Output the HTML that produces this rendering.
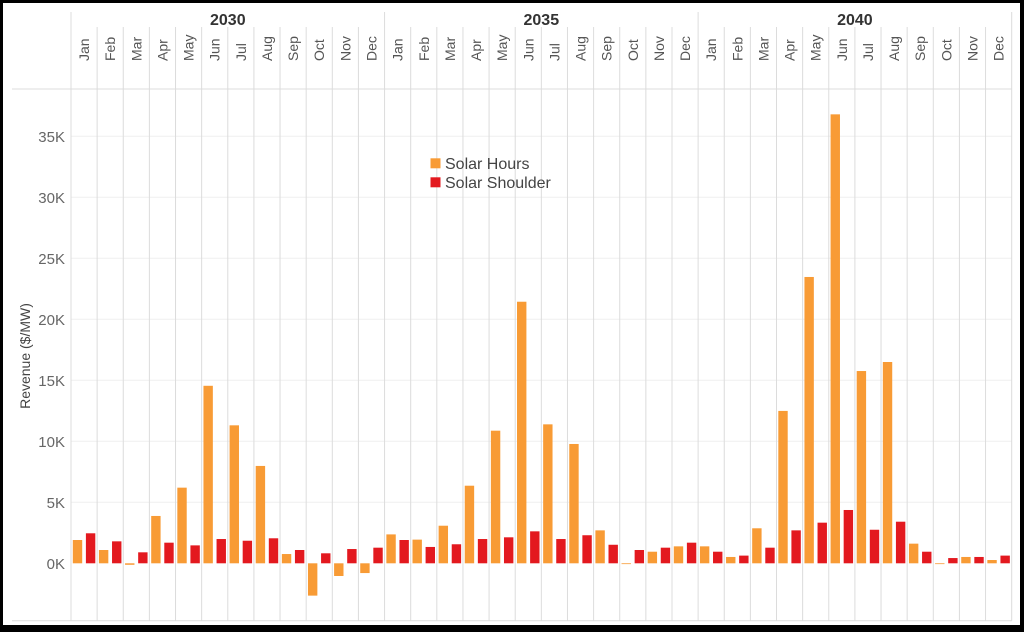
<!DOCTYPE html>
<html>
<head>
<meta charset="utf-8">
<style>
html,body{margin:0;padding:0;background:#000;}
svg{display:block;}
text{font-family:"Liberation Sans",Arial,sans-serif;}
</style>
</head>
<body>
<svg width="1024" height="632" viewBox="0 0 1024 632" xmlns="http://www.w3.org/2000/svg">
<rect x="0" y="0" width="1024" height="632" fill="#000"/>
<rect x="3" y="3" width="1017" height="622" fill="#fff"/>

<!-- horizontal gridlines -->
<g stroke="#efefef" stroke-width="1">
<line x1="71" y1="502.3" x2="1011.7" y2="502.3"/>
<line x1="71" y1="441.3" x2="1011.7" y2="441.3"/>
<line x1="71" y1="380.3" x2="1011.7" y2="380.3"/>
<line x1="71" y1="319.3" x2="1011.7" y2="319.3"/>
<line x1="71" y1="258.3" x2="1011.7" y2="258.3"/>
<line x1="71" y1="197.3" x2="1011.7" y2="197.3"/>
<line x1="71" y1="136.3" x2="1011.7" y2="136.3"/>
</g>

<!-- vertical month separators -->
<g stroke="#dcdcdc" stroke-width="1">
<line x1="97.13" y1="27" x2="97.13" y2="620.7"/>
<line x1="123.26" y1="27" x2="123.26" y2="620.7"/>
<line x1="149.39" y1="27" x2="149.39" y2="620.7"/>
<line x1="175.52" y1="27" x2="175.52" y2="620.7"/>
<line x1="201.65" y1="27" x2="201.65" y2="620.7"/>
<line x1="227.78" y1="27" x2="227.78" y2="620.7"/>
<line x1="253.91" y1="27" x2="253.91" y2="620.7"/>
<line x1="280.04" y1="27" x2="280.04" y2="620.7"/>
<line x1="306.17" y1="27" x2="306.17" y2="620.7"/>
<line x1="332.3" y1="27" x2="332.3" y2="620.7"/>
<line x1="358.43" y1="27" x2="358.43" y2="620.7"/>
<line x1="410.69" y1="27" x2="410.69" y2="620.7"/>
<line x1="436.82" y1="27" x2="436.82" y2="620.7"/>
<line x1="462.95" y1="27" x2="462.95" y2="620.7"/>
<line x1="489.08" y1="27" x2="489.08" y2="620.7"/>
<line x1="515.21" y1="27" x2="515.21" y2="620.7"/>
<line x1="541.34" y1="27" x2="541.34" y2="620.7"/>
<line x1="567.47" y1="27" x2="567.47" y2="620.7"/>
<line x1="593.6" y1="27" x2="593.6" y2="620.7"/>
<line x1="619.73" y1="27" x2="619.73" y2="620.7"/>
<line x1="645.86" y1="27" x2="645.86" y2="620.7"/>
<line x1="671.99" y1="27" x2="671.99" y2="620.7"/>
<line x1="724.25" y1="27" x2="724.25" y2="620.7"/>
<line x1="750.38" y1="27" x2="750.38" y2="620.7"/>
<line x1="776.51" y1="27" x2="776.51" y2="620.7"/>
<line x1="802.64" y1="27" x2="802.64" y2="620.7"/>
<line x1="828.77" y1="27" x2="828.77" y2="620.7"/>
<line x1="854.9" y1="27" x2="854.9" y2="620.7"/>
<line x1="881.03" y1="27" x2="881.03" y2="620.7"/>
<line x1="907.16" y1="27" x2="907.16" y2="620.7"/>
<line x1="933.29" y1="27" x2="933.29" y2="620.7"/>
<line x1="959.42" y1="27" x2="959.42" y2="620.7"/>
<line x1="985.55" y1="27" x2="985.55" y2="620.7"/>
<!-- year separators -->
<line x1="71" y1="12" x2="71" y2="620.7"/>
<line x1="384.56" y1="12" x2="384.56" y2="620.7"/>
<line x1="698.12" y1="12" x2="698.12" y2="620.7"/>
<line x1="1011.68" y1="12" x2="1011.68" y2="620.7"/>
<!-- header and bottom lines -->
<line x1="12" y1="89" x2="1011.7" y2="89"/>
<line x1="12" y1="620.7" x2="1011.7" y2="620.7"/>
</g>

<!-- year labels -->
<g font-size="16" font-weight="bold" fill="#333" text-anchor="middle">
<text x="227.8" y="25">2030</text>
<text x="541.3" y="25">2035</text>
<text x="854.9" y="25">2040</text>
</g>

<!-- month labels -->
<g font-size="14" fill="#555">
<text transform="translate(89.1,61) rotate(-90)">Jan</text>
<text transform="translate(115.2,61) rotate(-90)">Feb</text>
<text transform="translate(141.3,61) rotate(-90)">Mar</text>
<text transform="translate(167.5,61) rotate(-90)">Apr</text>
<text transform="translate(193.6,61) rotate(-90)">May</text>
<text transform="translate(219.7,61) rotate(-90)">Jun</text>
<text transform="translate(245.9,61) rotate(-90)">Jul</text>
<text transform="translate(272.0,61) rotate(-90)">Aug</text>
<text transform="translate(298.1,61) rotate(-90)">Sep</text>
<text transform="translate(324.2,61) rotate(-90)">Oct</text>
<text transform="translate(350.4,61) rotate(-90)">Nov</text>
<text transform="translate(376.5,61) rotate(-90)">Dec</text>
<text transform="translate(402.6,61) rotate(-90)">Jan</text>
<text transform="translate(428.8,61) rotate(-90)">Feb</text>
<text transform="translate(454.9,61) rotate(-90)">Mar</text>
<text transform="translate(481.0,61) rotate(-90)">Apr</text>
<text transform="translate(507.2,61) rotate(-90)">May</text>
<text transform="translate(533.3,61) rotate(-90)">Jun</text>
<text transform="translate(559.4,61) rotate(-90)">Jul</text>
<text transform="translate(585.5,61) rotate(-90)">Aug</text>
<text transform="translate(611.7,61) rotate(-90)">Sep</text>
<text transform="translate(637.8,61) rotate(-90)">Oct</text>
<text transform="translate(663.9,61) rotate(-90)">Nov</text>
<text transform="translate(690.1,61) rotate(-90)">Dec</text>
<text transform="translate(716.2,61) rotate(-90)">Jan</text>
<text transform="translate(742.3,61) rotate(-90)">Feb</text>
<text transform="translate(768.5,61) rotate(-90)">Mar</text>
<text transform="translate(794.6,61) rotate(-90)">Apr</text>
<text transform="translate(820.7,61) rotate(-90)">May</text>
<text transform="translate(846.8,61) rotate(-90)">Jun</text>
<text transform="translate(873.0,61) rotate(-90)">Jul</text>
<text transform="translate(899.1,61) rotate(-90)">Aug</text>
<text transform="translate(925.2,61) rotate(-90)">Sep</text>
<text transform="translate(951.4,61) rotate(-90)">Oct</text>
<text transform="translate(977.5,61) rotate(-90)">Nov</text>
<text transform="translate(1003.6,61) rotate(-90)">Dec</text>
</g>

<!-- y tick labels -->
<g font-size="15" fill="#666" text-anchor="end">
<text x="65" y="568.8">0K</text>
<text x="65" y="507.8">5K</text>
<text x="65" y="446.8">10K</text>
<text x="65" y="385.8">15K</text>
<text x="65" y="324.8">20K</text>
<text x="65" y="263.8">25K</text>
<text x="65" y="202.8">30K</text>
<text x="65" y="141.8">35K</text>
</g>

<!-- y axis title -->
<text transform="translate(30,356) rotate(-90)" font-size="14" fill="#444" text-anchor="middle">Revenue ($/MW)</text>

<!-- Solar Hours (orange) -->
<g fill="#F89B35">
<rect x="72.8" y="540.0" width="9.4" height="23.3"/>
<rect x="98.93" y="550.0" width="9.4" height="13.3"/>
<rect x="125.06" y="563.3" width="9.4" height="1.5"/>
<rect x="151.19" y="515.96" width="9.4" height="47.34"/>
<rect x="177.32" y="487.66" width="9.4" height="75.64"/>
<rect x="203.45" y="385.79" width="9.4" height="177.51"/>
<rect x="229.58" y="425.32" width="9.4" height="137.98"/>
<rect x="255.71" y="465.94" width="9.4" height="97.36"/>
<rect x="281.84" y="554.03" width="9.4" height="9.27"/>
<rect x="307.97" y="563.3" width="9.4" height="32.33"/>
<rect x="334.1" y="563.3" width="9.4" height="12.69"/>
<rect x="360.23" y="563.3" width="9.4" height="9.76"/>
<rect x="386.36" y="534.39" width="9.4" height="28.91"/>
<rect x="412.49" y="539.63" width="9.4" height="23.67"/>
<rect x="438.62" y="525.72" width="9.4" height="37.58"/>
<rect x="464.75" y="485.71" width="9.4" height="77.59"/>
<rect x="490.88" y="430.69" width="9.4" height="132.61"/>
<rect x="517.01" y="301.73" width="9.4" height="261.57"/>
<rect x="543.14" y="424.34" width="9.4" height="138.96"/>
<rect x="569.27" y="443.98" width="9.4" height="119.32"/>
<rect x="595.4" y="530.36" width="9.4" height="32.94"/>
<rect x="621.53" y="563.3" width="9.4" height="0.8"/>
<rect x="647.66" y="551.71" width="9.4" height="11.59"/>
<rect x="673.79" y="546.34" width="9.4" height="16.96"/>
<rect x="699.92" y="546.34" width="9.4" height="16.96"/>
<rect x="726.05" y="556.96" width="9.4" height="6.34"/>
<rect x="752.18" y="528.29" width="9.4" height="35.01"/>
<rect x="778.31" y="410.92" width="9.4" height="152.38"/>
<rect x="804.44" y="276.97" width="9.4" height="286.33"/>
<rect x="830.57" y="114.34" width="9.4" height="448.96"/>
<rect x="856.7" y="371.03" width="9.4" height="192.27"/>
<rect x="882.83" y="362.0" width="9.4" height="201.3"/>
<rect x="908.96" y="543.66" width="9.4" height="19.64"/>
<rect x="935.09" y="563.3" width="9.4" height="0.8"/>
<rect x="961.22" y="556.96" width="9.4" height="6.34"/>
<rect x="987.35" y="560.01" width="9.4" height="3.29"/>
</g>

<!-- Solar Shoulder (red) -->
<g fill="#E3191F">
<rect x="85.9" y="533.29" width="9.4" height="30.01"/>
<rect x="112.03" y="541.34" width="9.4" height="21.96"/>
<rect x="138.16" y="552.32" width="9.4" height="10.98"/>
<rect x="164.29" y="542.68" width="9.4" height="20.62"/>
<rect x="190.42" y="545.37" width="9.4" height="17.93"/>
<rect x="216.55" y="539.02" width="9.4" height="24.28"/>
<rect x="242.68" y="540.73" width="9.4" height="22.57"/>
<rect x="268.81" y="538.29" width="9.4" height="25.01"/>
<rect x="294.94" y="550.0" width="9.4" height="13.3"/>
<rect x="321.07" y="553.3" width="9.4" height="10.0"/>
<rect x="347.2" y="549.03" width="9.4" height="14.27"/>
<rect x="373.33" y="547.68" width="9.4" height="15.62"/>
<rect x="399.46" y="540.0" width="9.4" height="23.3"/>
<rect x="425.59" y="546.95" width="9.4" height="16.35"/>
<rect x="451.72" y="544.27" width="9.4" height="19.03"/>
<rect x="477.85" y="539.02" width="9.4" height="24.28"/>
<rect x="503.98" y="537.31" width="9.4" height="25.99"/>
<rect x="530.11" y="531.34" width="9.4" height="31.96"/>
<rect x="556.24" y="539.02" width="9.4" height="24.28"/>
<rect x="582.37" y="535.24" width="9.4" height="28.06"/>
<rect x="608.5" y="544.76" width="9.4" height="18.54"/>
<rect x="634.63" y="550.0" width="9.4" height="13.3"/>
<rect x="660.76" y="547.68" width="9.4" height="15.62"/>
<rect x="686.89" y="542.68" width="9.4" height="20.62"/>
<rect x="713.02" y="551.71" width="9.4" height="11.59"/>
<rect x="739.15" y="555.61" width="9.4" height="7.69"/>
<rect x="765.28" y="547.68" width="9.4" height="15.62"/>
<rect x="791.41" y="530.36" width="9.4" height="32.94"/>
<rect x="817.54" y="522.67" width="9.4" height="40.63"/>
<rect x="843.67" y="509.99" width="9.4" height="53.31"/>
<rect x="869.8" y="529.75" width="9.4" height="33.55"/>
<rect x="895.93" y="521.7" width="9.4" height="41.6"/>
<rect x="922.06" y="551.71" width="9.4" height="11.59"/>
<rect x="948.19" y="558.05" width="9.4" height="5.25"/>
<rect x="974.32" y="556.96" width="9.4" height="6.34"/>
<rect x="1000.45" y="555.61" width="9.4" height="7.69"/>
</g>

<!-- legend -->
<rect x="430.5" y="158.3" width="10" height="10" fill="#F89B35"/>
<rect x="430.5" y="177.3" width="10" height="10" fill="#E3191F"/>
<g font-size="16" fill="#444">
<text x="445" y="168.8">Solar Hours</text>
<text x="445" y="187.8">Solar Shoulder</text>
</g>
</svg>
</body>
</html>
